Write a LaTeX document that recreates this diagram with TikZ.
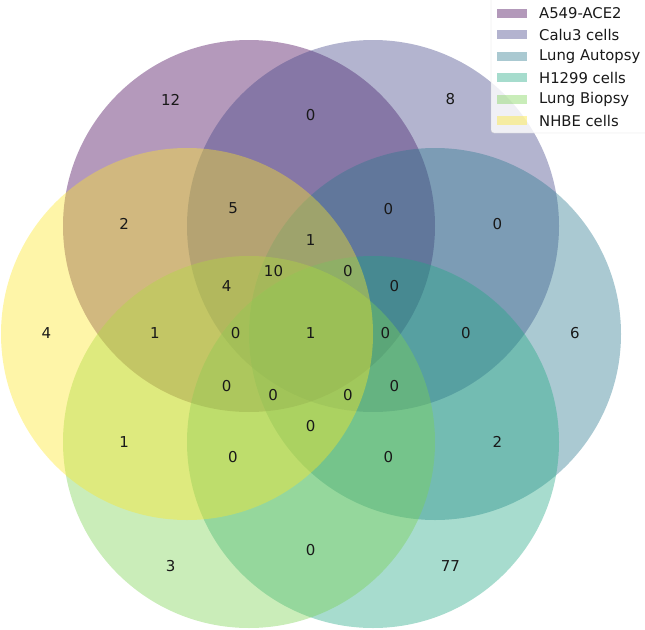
\documentclass[tikz,border=0pt]{standalone}
\usepackage{fontspec}
\setmainfont{DejaVu Sans}
\definecolor{cA}{RGB}{68,1,84}
\definecolor{cB}{RGB}{65,68,135}
\definecolor{cC}{RGB}{42,120,142}
\definecolor{cD}{RGB}{34,168,132}
\definecolor{cE}{RGB}{122,209,81}
\definecolor{cF}{RGB}{253,231,37}
\tikzset{
  setcirc/.style={fill=#1, fill opacity=0.4, draw=none},
  num/.style={font=\fontsize{15}{15}\selectfont, text=black!90, inner sep=0pt},
  legtext/.style={font=\fontsize{14.8}{14.8}\selectfont, text=black!90, anchor=west, inner sep=0pt},
  legpatch/.style={fill=#1, fill opacity=0.4, draw=none, minimum width=30pt, minimum height=9pt, inner sep=0pt},
}
\begin{document}
\begin{tikzpicture}[x=1pt,y=-1pt]
\useasboundingbox (0,0) rectangle (645,629);
% circles
\fill[setcirc=cA] (249,226) circle (186);
\fill[setcirc=cB] (373,226) circle (186);
\fill[setcirc=cC] (435,334) circle (186);
\fill[setcirc=cD] (373,442) circle (186);
\fill[setcirc=cE] (249,442) circle (186);
\fill[setcirc=cF] (187,334) circle (186);
% numbers
\node[num] (n1) at (170.7,99.5) {12};
\node[num] (n2) at (310.6,115.5) {0};
\node[num] (n3) at (450.4,99.5) {8};
\node[num] (n4) at (124.2,223.8) {2};
\node[num] (n5) at (233.2,208.6) {5};
\node[num] (n6) at (388.3,208.6) {0};
\node[num] (n7) at (497.3,223.8) {0};
\node[num] (n8) at (310.6,239.9) {1};
\node[num] (n9) at (273.5,271.2) {10};
\node[num] (n10) at (348,271.2) {0};
\node[num] (n11) at (226.7,286.4) {4};
\node[num] (n12) at (394.5,286.4) {0};
\node[num] (n13) at (46.5,333) {4};
\node[num] (n14) at (155,333) {1};
\node[num] (n15) at (235.7,333) {0};
\node[num] (n16) at (310.6,333) {1};
\node[num] (n17) at (385.4,333) {0};
\node[num] (n18) at (466,333) {0};
\node[num] (n19) at (575,333) {6};
\node[num] (n20) at (226.7,385.9) {0};
\node[num] (n21) at (273.1,395.1) {0};
\node[num] (n22) at (348,395.1) {0};
\node[num] (n23) at (394.5,385.9) {0};
\node[num] (n24) at (310.6,426) {0};
\node[num] (n25) at (124.2,442) {1};
\node[num] (n26) at (232.8,457.3) {0};
\node[num] (n27) at (388.3,457.3) {0};
\node[num] (n28) at (497.3,442) {2};
\node[num] (n29) at (310.6,550.3) {0};
\node[num] (n30) at (170.7,566.4) {3};
\node[num] (n31) at (450.4,566.4) {77};
% legend
\path[fill=white, fill opacity=0.8, draw=black!20, draw opacity=0.8, rounded corners=3pt] (491,-10) rectangle (660,133);
\node[legpatch=cA] (p1) at (512,13.3) {};
\node[legpatch=cB] (p2) at (512,34.8) {};
\node[legpatch=cC] (p3) at (512,56.3) {};
\node[legpatch=cD] (p4) at (512,77.8) {};
\node[legpatch=cE] (p5) at (512,99.3) {};
\node[legpatch=cF] (p6) at (512,120.8) {};
\node[legtext] (t1) at (539,13.3) {A549-ACE2};
\node[legtext] (t2) at (539,34.8) {Calu3 cells};
\node[legtext] (t3) at (539,56.3) {Lung Autopsy};
\node[legtext] (t4) at (539,77.8) {H1299 cells};
\node[legtext] (t5) at (539,99.3) {Lung Biopsy};
\node[legtext] (t6) at (539,120.8) {NHBE cells};
\end{tikzpicture}
\end{document}
